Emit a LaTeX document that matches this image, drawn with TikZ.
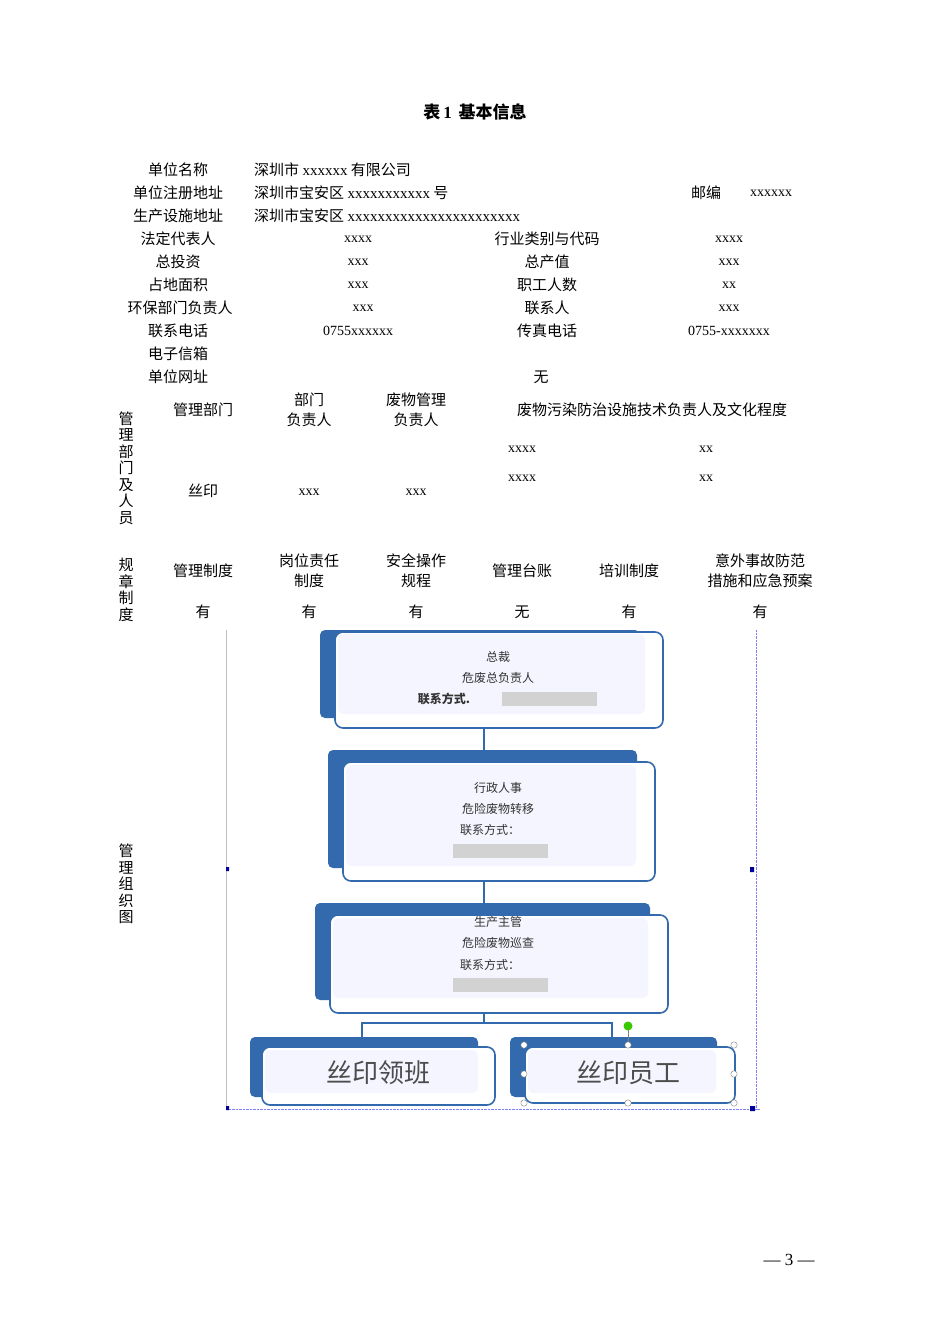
\documentclass[tikz,border=0pt]{standalone}
\usepackage{fontspec}
\setmainfont{Liberation Serif}
\newfontfamily\cjk{Noto Sans CJK SC}
\begin{document}
\begin{tikzpicture}[x=1pt,y=-1pt,
  t/.style={font=\cjk\fontsize{15}{20}\selectfont,inner sep=0pt,align=center},
  r/.style={font=\fontsize{14}{18}\selectfont,inner sep=0pt},
  vt/.style={font=\cjk\fontsize{15}{16.5}\selectfont,inner sep=0pt,align=center},
  sh/.style={fill=blue!45!black!35!cyan!40!blue,draw=none,rounded corners=5pt},
  fr/.style={draw=blue!60!black!70,line width=1.6pt,fill=white,rounded corners=8pt},
  inn/.style={fill=blue!4,draw=none,rounded corners=6pt},
  blur/.style={fill=gray!35,draw=none},
  ot/.style={font=\cjk\fontsize{12}{14}\selectfont,inner sep=0pt,text=black!80},
  con/.style={draw=blue!60!black!70,line width=2.2pt}]
\useasboundingbox[fill=white] (0,0) rectangle (950,1344);
\colorlet{sb}{blue!55!cyan!60!black!80}
\node[t,font=\cjk\bfseries\fontsize{17}{20}\selectfont] (title) at (475,112) {表\,{\rmfamily\bfseries 1}\, 基本信息};
% rows
\node[t] (a1) at (178,170) {单位名称};
\node[t,anchor=west] (b1) at (254,170) {深圳市 {\rmfamily xxxxxx} 有限公司};
\node[t] (a2) at (178,193) {单位注册地址};
\node[t,anchor=west] (b2) at (254,193) {深圳市宝安区 {\rmfamily xxxxxxxxxxx} 号};
\node[t] (c2) at (706,193) {邮编};
\node[r] (d2) at (771,193) {xxxxxx};
\node[t] (a3) at (178,216) {生产设施地址};
\node[t,anchor=west] (b3) at (254,216) {深圳市宝安区 {\rmfamily xxxxxxxxxxxxxxxxxxxxxxx}};
\node[t] (a4) at (178,239) {法定代表人};
\node[r] (b4) at (358,239) {xxxx};
\node[t] (c4) at (547,239) {行业类别与代码};
\node[r] (d4) at (729,239) {xxxx};
\node[t] (a5) at (178,262) {总投资};
\node[r] (b5) at (358,262) {xxx};
\node[t] (c5) at (547,262) {总产值};
\node[r] (d5) at (729,262) {xxx};
\node[t] (a6) at (178,285) {占地面积};
\node[r] (b6) at (358,285) {xxx};
\node[t] (c6) at (547,285) {职工人数};
\node[r] (d6) at (729,285) {xx};
\node[t] (a7) at (180,308) {环保部门负责人};
\node[r] (b7) at (363,308) {xxx};
\node[t] (c7) at (547,308) {联系人};
\node[r] (d7) at (729,308) {xxx};
\node[t] (a8) at (178,331) {联系电话};
\node[r] (b8) at (358,331) {0755xxxxxx};
\node[t] (c8) at (547,331) {传真电话};
\node[r] (d8) at (729,331) {0755-xxxxxxx};
\node[t] (a9) at (178,354) {电子信箱};
\node[t] (a10) at (178,377) {单位网址};
\node[t] (c10) at (541,377) {无};
% management
\node[vt] (v1) at (126,468) {管\\理\\部\\门\\及\\人\\员};
\node[t] (m1) at (203,410) {管理部门};
\node[t] (m2) at (309,410) {部门\\负责人};
\node[t] (m3) at (416,410) {废物管理\\负责人};
\node[t] (m4) at (652,410) {废物污染防治设施技术负责人及文化程度};
\node[r] (x1) at (522,449) {xxxx};
\node[r] (x2) at (706,449) {xx};
\node[r] (x3) at (522,478) {xxxx};
\node[r] (x4) at (706,478) {xx};
\node[t] (s1) at (203,491) {丝印};
\node[r] (s2) at (309,492) {xxx};
\node[r] (s3) at (416,492) {xxx};
% rules
\node[vt] (v2) at (126,590) {规\\章\\制\\度};
\node[t] (g1) at (203,571) {管理制度};
\node[t] (g2) at (309,571) {岗位责任\\制度};
\node[t] (g3) at (416,571) {安全操作\\规程};
\node[t] (g4) at (522,571) {管理台账};
\node[t] (g5) at (629,571) {培训制度};
\node[t] (g6) at (760,571) {意外事故防范\\措施和应急预案};
\node[t] (h1) at (203,612) {有};
\node[t] (h2) at (309,612) {有};
\node[t] (h3) at (416,612) {有};
\node[t] (h4) at (522,612) {无};
\node[t] (h5) at (629,612) {有};
\node[t] (h6) at (760,612) {有};
\node[vt] (v3) at (126,884) {管\\理\\组\\织\\图};
% org chart frame
\draw[gray!50] (226,630) -- (226,1110);
\draw[blue!50,densely dotted] (756,630) -- (756,1110) (226,1109) -- (760,1109);
\fill[blue!60!black] (226,867) rectangle +(3,4) (750,867) rectangle +(4,5) (750,1106) rectangle +(5,5) (226,1106) rectangle +(3,4);
% box1
\fill[sb,rounded corners=5pt] (320,630) rectangle (640,718);
\draw[fr,draw=sb] (335,632) rectangle (663,728);
\fill[blue!4,rounded corners=6pt] (338,634) rectangle (645,714);
\node[ot] (o1) at (498,657) {总裁};
\node[ot] (o2) at (498,678) {危废总负责人};
\node[ot,font=\cjk\bfseries\fontsize{12}{14}\selectfont] (o3) at (444,699) {联系方式.};
\node[blur,minimum width=95pt,minimum height=14pt] (b1x) at (549,699) {};
% box2
\fill[sb,rounded corners=5pt] (328,750) rectangle (637,868);
\draw[fr,draw=sb] (343,762) rectangle (655,881);
\fill[blue!4,rounded corners=6pt] (346,765) rectangle (636,866);
\node[ot] (p1) at (498,788) {行政人事};
\node[ot] (p2) at (498,809) {危险废物转移};
\node[ot] (p3) at (490,830) {联系方式：};
\node[blur,minimum width=95pt,minimum height=14pt] (b2x) at (500,851) {};
% box3
\fill[sb,rounded corners=5pt] (315,903) rectangle (650,1000);
\draw[fr,draw=sb] (330,915) rectangle (668,1013);
\fill[blue!4,rounded corners=6pt] (333,918) rectangle (648,998);
\node[ot] (q1) at (498,922) {生产主管};
\node[ot] (q2) at (498,943) {危险废物巡查};
\node[ot] (q3) at (490,965) {联系方式：};
\node[blur,minimum width=95pt,minimum height=14pt] (b3x) at (500,985) {};
% box4,5
\fill[sb,rounded corners=5pt] (250,1037) rectangle (478,1097);
\draw[fr,draw=sb] (262,1047) rectangle (495,1105);
\fill[blue!4,rounded corners=6pt] (265,1050) rectangle (478,1093);
\node[font=\cjk\fontsize{26}{28}\selectfont,text=black!70,inner sep=0pt] (r1) at (378,1073) {丝印领班};
\fill[sb,rounded corners=5pt] (510,1037) rectangle (717,1097);
\draw[fr,draw=sb] (525,1047) rectangle (735,1103);
\fill[blue!4,rounded corners=6pt] (528,1050) rectangle (716,1093);
\node[font=\cjk\fontsize{26}{28}\selectfont,text=black!70,inner sep=0pt] (r2) at (628,1073) {丝印员工};
\coordinate (j1) at (484,728);
\coordinate (j2) at (484,750);
\coordinate (j3) at (484,881);
\coordinate (j4) at (484,903);
\coordinate (j5) at (484,1013);
\coordinate (j6) at (484,1023);
\coordinate (l1) at (362,1037);
\coordinate (l2) at (612,1037);
\draw[con,draw=sb] (j1) -- (j2) (j3) -- (j4) (j5) -- (j6);
\draw[con,draw=sb,line width=1.8pt] (l1) |- (j6) -| (l2);
\draw[gray] (628,1027) -- (628,1047);
\fill[green!70!black!70!lime] (628,1026) circle (4.5);
\foreach \p in {(524,1045),(628,1045),(734,1045),(524,1074),(734,1074),(524,1103),(628,1103),(734,1103)}
  \draw[fill=white,draw=gray] \p circle (3.2);
% page number
\node[r,font=\fontsize{17}{20}\selectfont] (pg) at (789,1260) {— 3 —};
\end{tikzpicture}
\end{document}
